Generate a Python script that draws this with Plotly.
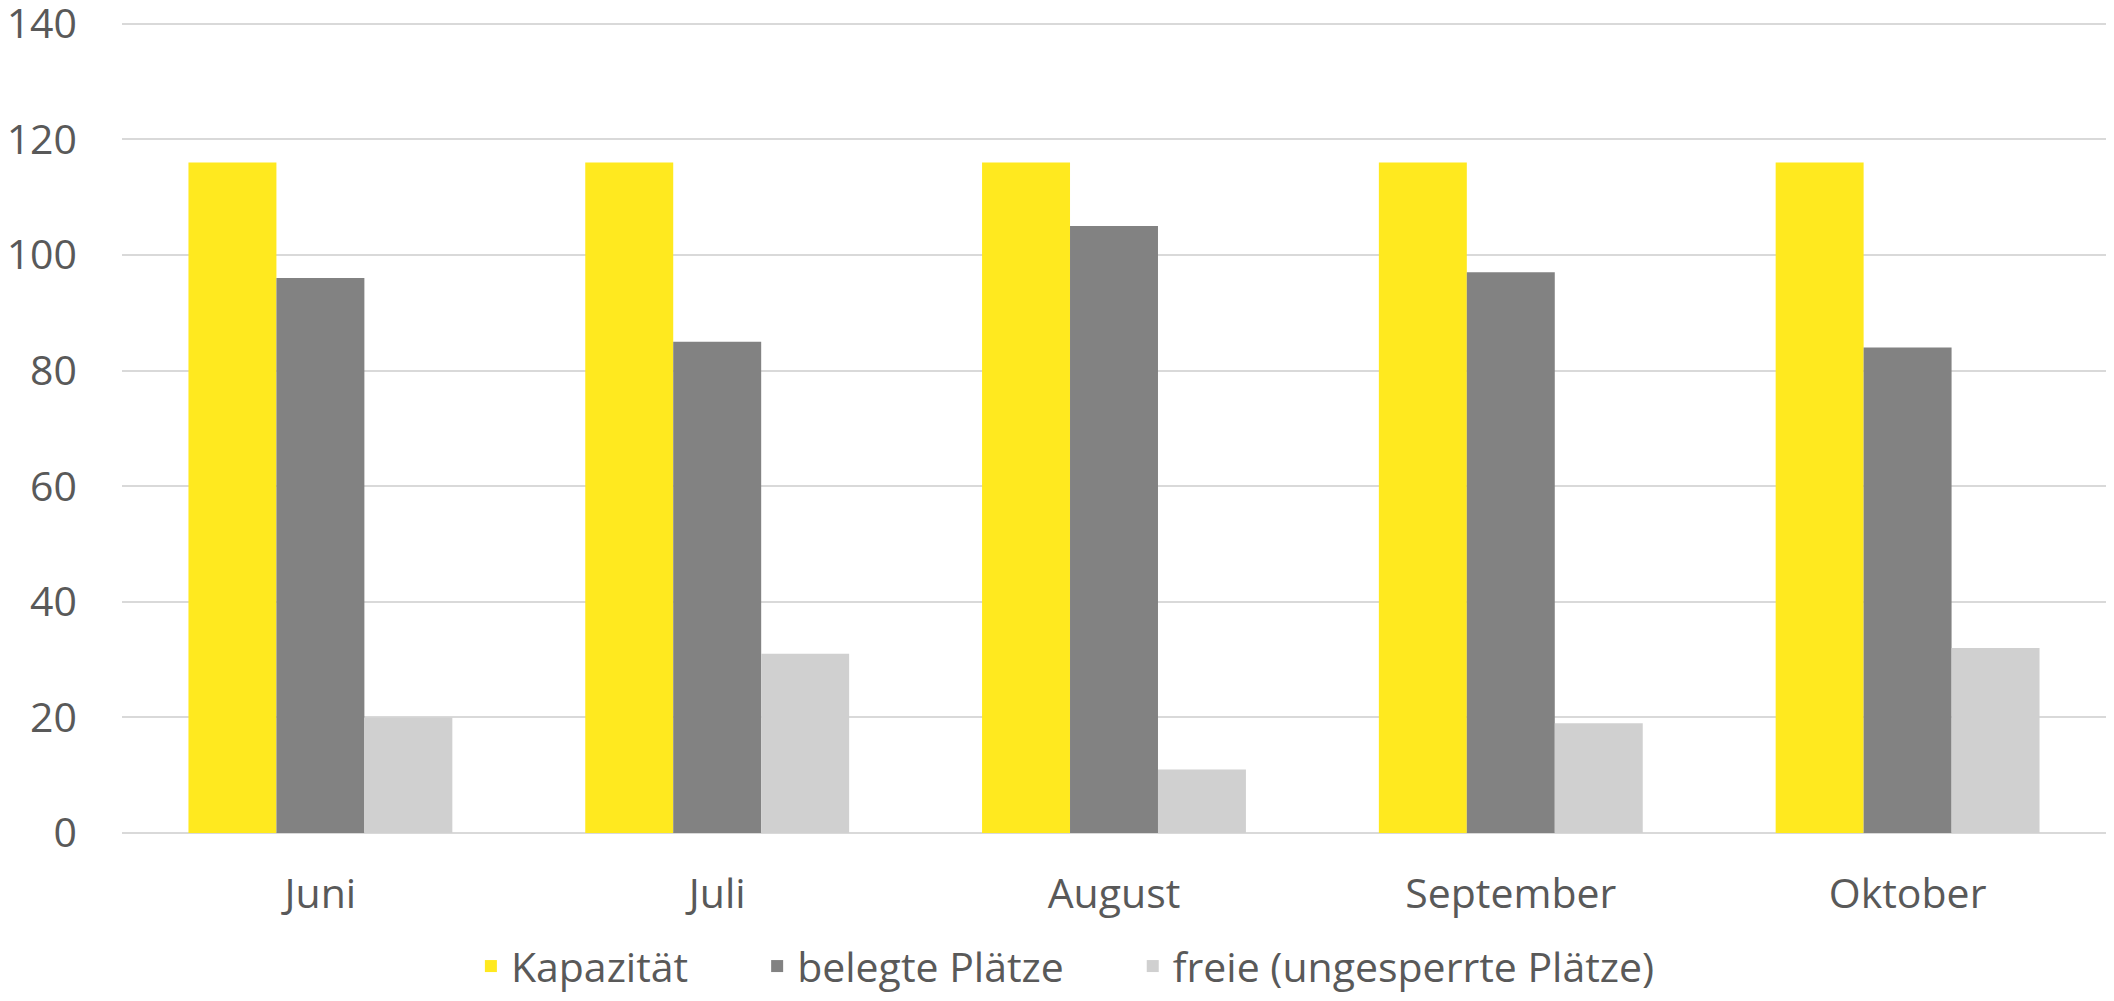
import plotly.graph_objects as go

months = ["Juni", "Juli", "August", "September", "Oktober"]
kapazitaet = [116, 116, 116, 116, 116]
belegt = [96, 85, 105, 97, 84]
frei = [20, 31, 11, 19, 32]
y_ticks = [0, 20, 40, 60, 80, 100, 120, 140]

pad = "\u00a0" * 6
series = [
    ("Kapazität" + pad, kapazitaet, "#FFE91F"),
    ("belegte Plätze" + pad, belegt, "#828282"),
    ("freie (ungesperrte Plätze)", frei, "#D0D0D0"),
]

fig = go.Figure()
for name, vals, col in series:
    fig.add_trace(go.Bar(x=months, y=vals, name=name, marker_color=col,
                         marker_line_width=0))

# The page body adds an 8px margin, so the figure is sized to fit inside it.
W, H = 2098, 985
font = dict(family="Open Sans", size=41, color="#595959")
fig.update_layout(
    width=W, height=H,
    margin=dict(l=114, r=0, t=10, b=160, autoexpand=False),
    paper_bgcolor="white", plot_bgcolor="white",
    barmode="group", bargap=0.335, bargroupgap=0,
    font=font,
    showlegend=True,
    legend=dict(orientation="h", x=0.504, xanchor="center", xref="container",
                y=0.027, yref="container", yanchor="middle", font=font,
                bgcolor="rgba(0,0,0,0)"),
    xaxis=dict(showgrid=False, showline=False, ticks="", tickfont=font,
               ticklabelstandoff=33, automargin=False),
    yaxis=dict(range=[0, 141], tickvals=y_ticks, showgrid=True,
               gridcolor="#D9D9D9", gridwidth=2, zeroline=True,
               zerolinecolor="#D9D9D9", zerolinewidth=2, showline=False,
               ticks="", tickfont=font, ticklabelstandoff=44,
               ticklabeloverflow="allow", automargin=False),
)

fig.write_html("out.html")
